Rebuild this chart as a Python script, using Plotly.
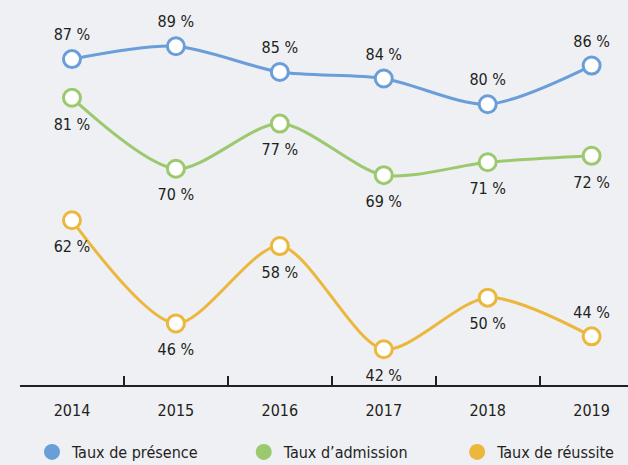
import plotly.graph_objects as go

years = ["2014", "2015", "2016", "2017", "2018", "2019"]
presence = [87, 89, 85, 84, 80, 86]
admission = [81, 70, 77, 69, 71, 72]
reussite = [62, 46, 58, 42, 50, 44]

names = ["Taux de présence", "Taux d\u2019admission", "Taux de réussite"]
colors = ["#6a9ed8", "#9cc86e", "#ebb73d"]
series = [presence, admission, reussite]
label_pos = [
    ["top center"] * 6,
    ["bottom center"] * 6,
    ["bottom center"] * 5 + ["top center"],
]

FONT = "DejaVu Sans Condensed, Liberation Sans Narrow, sans-serif"
TXT = "#231f20"
FS = 16

fig = go.Figure()
for name, col, vals in zip(names, colors, series):
    fig.add_trace(go.Scatter(
        x=years, y=vals, mode="lines+markers",
        line=dict(color=col, width=3, shape="spline", smoothing=0.8),
        marker=dict(size=17, color="white", line=dict(color=col, width=3)),
        showlegend=False, hoverinfo="skip"))
for vals, pos in zip(series, label_pos):
    fig.add_trace(go.Scatter(
        x=years, y=vals, mode="markers+text", text=[f"{v} %" for v in vals],
        textposition=pos, textfont=dict(family=FONT, size=FS, color=TXT),
        marker=dict(size=[22 if p.startswith("top") else 30 for p in pos],
                    color="rgba(0,0,0,0)", opacity=0, line=dict(width=0)),
        showlegend=False, hoverinfo="skip"))

legend_ids = ["legend", "legend2", "legend3"]
legend_x = [0.0197, 0.368, 0.719]
for name, col, lid in zip(names, colors, legend_ids):
    fig.add_trace(go.Scatter(
        x=[None], y=[None], mode="markers", name=name, legend=lid,
        marker=dict(size=20, color=col)))

def leg(x):
    return dict(orientation="h", x=x, xanchor="left", y=-0.174, yanchor="middle",
                font=dict(family=FONT, size=FS, color=TXT), bgcolor="rgba(0,0,0,0)")

fig.update_layout(
    width=628, height=465,
    margin=dict(l=20, r=0, t=0, b=80, autoexpand=False),
    paper_bgcolor="#eef0f4", plot_bgcolor="#eef0f4",
    font=dict(family=FONT, size=FS, color=TXT),
    hovermode=False,
    legend=leg(legend_x[0]), legend2=leg(legend_x[1]), legend3=leg(legend_x[2]),
    xaxis=dict(type="category", range=[-0.5, 5.35], tickson="boundaries", ticks="inside",
               ticklen=9, tickwidth=1.5, tickcolor=TXT, showline=True, linecolor=TXT, linewidth=1.5,
               showgrid=False, zeroline=False, ticklabelstandoff=10,
               tickfont=dict(family=FONT, size=FS, color=TXT)),
    yaxis=dict(range=[36.45, 96.17], visible=False, showgrid=False, zeroline=False),
)

fig.write_html("out.html", config={"displayModeBar": False},
               post_script="document.body.style.margin='0px';")
